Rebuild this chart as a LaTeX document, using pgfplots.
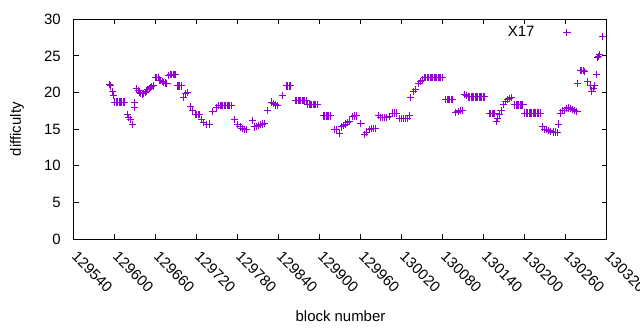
\documentclass[border=0pt]{standalone}
\usepackage{fontspec}
\setmainfont{Liberation Sans}
\usepackage{pgfplots}
\pgfplotsset{compat=1.18}
\definecolor{gpurple}{RGB}{148,0,211}
\pgfdeclareplotmark{gplus}{%
  \pgfsetstrokecolor{gpurple}%
  \pgfsetlinewidth{1bp}%
  \pgfpathmoveto{\pgfqpoint{-\pgfplotmarksize}{0pt}}%
  \pgfpathlineto{\pgfqpoint{\pgfplotmarksize}{0pt}}%
  \pgfpathmoveto{\pgfqpoint{0pt}{-\pgfplotmarksize}}%
  \pgfpathlineto{\pgfqpoint{0pt}{\pgfplotmarksize}}%
  \pgfusepathqstroke}
\begin{document}
\fontsize{15}{18}\selectfont
\begin{tikzpicture}
\begin{axis}[
  at={(0,0)}, anchor=south west,
  scale only axis, width=533bp, height=219.7bp,
  xmin=129540, xmax=130320, ymin=0, ymax=30,
  xtick={129540,129600,129660,129720,129780,129840,129900,129960,130020,130080,130140,130200,130260,130320},
  xticklabels={129540,129600,129660,129720,129780,129840,129900,129960,130020,130080,130140,130200,130260,130320},
  ytick={0,5,10,15,20,25,30},
  yticklabels={0,5,10,15,20,25,30},
  scaled x ticks=false,
  tick align=inside, major tick length=5bp,
  every tick/.style={black, line width=1bp},
  axis line style={black, line width=1bp},
  xticklabel style={xshift=4.5bp, yshift=-11bp, rotate=-45, anchor=north west, inner sep=0pt},
  yticklabel style={anchor=east, inner sep=0pt, xshift=-13bp},
  xlabel={block number}, ylabel={difficulty},
  every axis x label/.style={at={(axis description cs:0.5,-0.353)}, anchor=center},
  every axis y label/.style={at={(axis description cs:-0.107,0.5)}, anchor=center, rotate=90},
  legend style={draw=none, fill=none, at={(axis description cs:0.932,0.941)}, anchor=east, inner sep=0pt},
  legend cell align=right,
  legend plot pos=right,
  legend image code/.code={\path (0bp,0bp) (33bp,0bp); \draw[#1] plot coordinates {(30bp,0bp)};},
]
\addplot[only marks, mark=gplus, mark size=3.6bp, color=gpurple, line width=1bp] table {
x y
129592 21.1
129594 20.9
129596 20.1
129598 19.6
129600 18.7
129602 18.7
129604 18.7
129606 18.7
129608 18.7
129610 18.7
129612 18.7
129614 18.7
129618 17.0
129620 16.6
129623 16.3
129626 15.6
129628 18.0
129629 18.6
129632 20.5
129634 20.3
129636 20.0
129638 19.9
129640 19.8
129642 19.9
129644 20.0
129646 20.2
129648 20.4
129650 20.5
129652 20.7
129654 20.8
129656 20.9
129659 22.1
129661 22.1
129663 22.0
129665 21.7
129667 21.6
129669 21.5
129671 21.4
129674 21.3
129676 21.2
129679 22.3
129681 22.5
129683 22.5
129685 22.5
129687 22.5
129689 22.5
129691 20.9
129693 20.9
129695 20.9
129697 20.9
129700 19.3
129703 19.8
129706 20.0
129711 18.1
129714 17.5
129718 17.0
129720 17.0
129722 17.0
129724 17.0
129727 16.3
129730 15.9
129734 15.6
129738 15.7
129743 17.4
129748 17.9
129752 18.2
129754 18.2
129756 18.2
129758 18.2
129760 18.2
129762 18.2
129764 18.2
129766 18.2
129768 18.2
129770 18.2
129775 16.3
129780 15.6
129783 15.3
129786 15.1
129789 15.0
129792 15.0
129801 16.2
129804 15.3
129807 15.4
129810 15.5
129813 15.6
129816 15.7
129819 15.8
129823 17.5
129829 18.7
129832 18.5
129835 18.3
129838 18.2
129845 19.6
129851 20.9
129853 20.9
129855 20.9
129857 20.9
129864 18.9
129866 18.9
129868 18.9
129870 18.9
129872 18.9
129874 18.9
129876 18.9
129878 18.9
129880 18.9
129882 18.4
129884 18.4
129886 18.4
129888 18.4
129890 18.4
129892 18.4
129894 18.4
129896 18.4
129905 16.8
129907 16.8
129909 16.8
129911 16.8
129913 16.8
129915 16.8
129921 14.9
129924 14.9
129928 14.45
129931 15.3
129934 15.5
129937 15.7
129940 15.9
129943 16.1
129948 16.7
129951 16.8
129954 16.8
129960 15.8
129965 14.3
129968 14.6
129972 14.9
129975 15.1
129978 15.1
129981 15.1
129986 16.9
129989 16.6
129992 16.6
129995 16.6
129998 16.6
130001 16.7
130006 17.2
130009 17.2
130012 17.2
130016 16.5
130019 16.4
130022 16.4
130025 16.4
130028 16.5
130031 16.8
130033 19.3
130037 20.1
130040 20.4
130044 21.2
130047 21.5
130050 21.7
130053 22.0
130055 22.0
130057 22.0
130059 22.0
130061 22.0
130063 22.0
130065 22.0
130067 22.0
130069 22.0
130071 22.0
130073 22.0
130075 22.0
130077 22.0
130079 22.0
130084 19.0
130086 19.0
130088 19.0
130090 19.0
130092 19.0
130094 19.0
130099 17.3
130102 17.4
130105 17.5
130108 17.6
130111 19.7
130114 19.6
130117 19.4
130119 19.4
130121 19.4
130123 19.4
130125 19.4
130127 19.4
130129 19.4
130131 19.4
130133 19.4
130135 19.4
130137 19.4
130139 19.4
130141 19.4
130148 17.1
130150 17.1
130152 17.1
130154 17.1
130156 17.1
130158 16.0
130160 16.4
130163 17.0
130165 17.6
130168 18.4
130171 18.8
130174 19.0
130177 19.2
130180 19.3
130185 18.3
130187 18.3
130189 18.3
130191 18.3
130193 18.3
130195 18.3
130197 18.3
130200 17.2
130202 17.2
130204 17.2
130206 17.2
130208 17.2
130210 17.2
130212 17.2
130214 17.2
130216 17.2
130218 17.2
130220 17.2
130222 17.2
130226 15.3
130229 15.0
130232 14.9
130235 14.8
130238 14.7
130241 14.6
130244 14.6
130247 14.5
130249 15.7
130252 17.2
130255 17.5
130258 17.6
130261 17.8
130264 17.9
130267 17.8
130270 17.7
130273 17.5
130276 17.4
130277 21.2
130281 23.0
130283 23.0
130285 23.0
130287 22.9
130291 21.5
130296 20.9
130298 20.2
130300 20.5
130301 20.9
130305 22.5
130306 24.75
130307 24.9
130309 25.2
130314 27.6
};
\legend{X17}
\end{axis}
\pgfresetboundingbox
\path[use as bounding box] (-74bp,-91bp) rectangle (566bp,239bp);
\end{tikzpicture}
\end{document}
